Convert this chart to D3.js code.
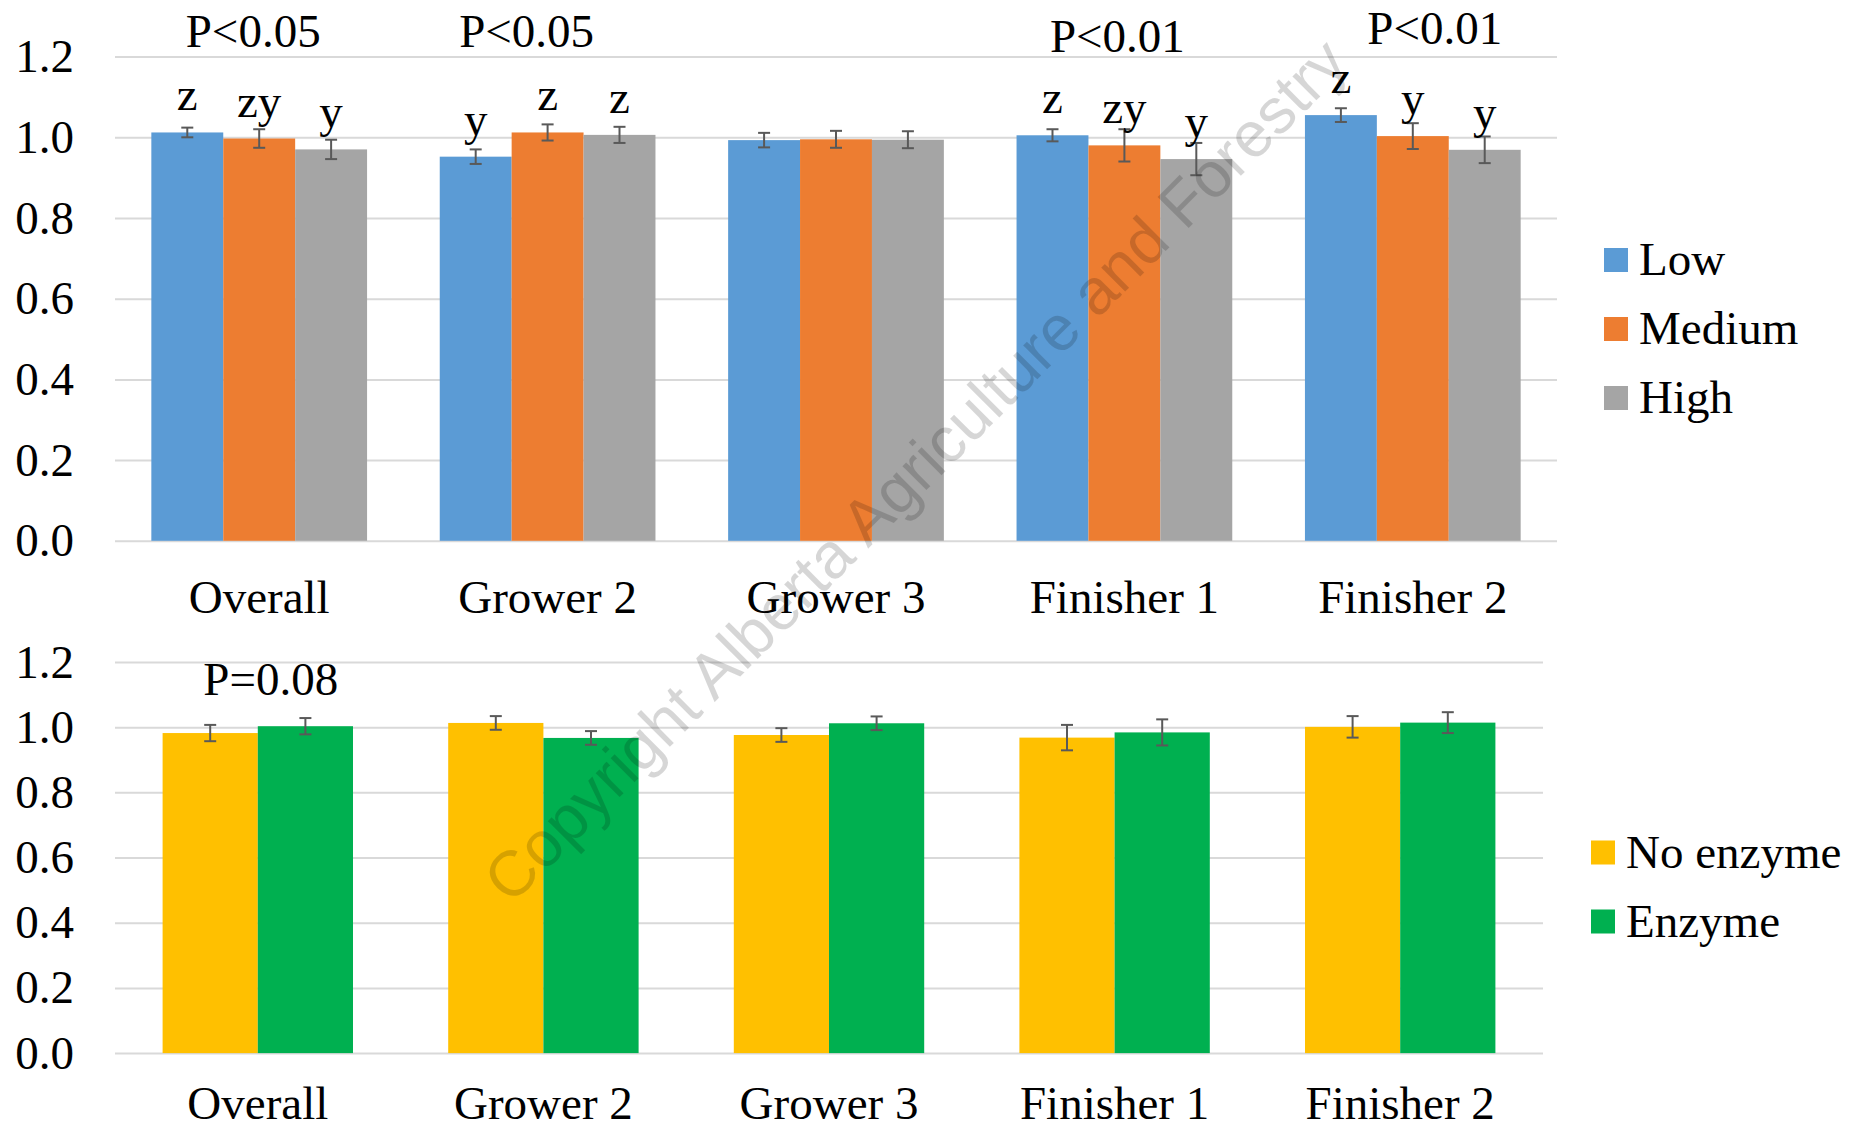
<!DOCTYPE html>
<html>
<head>
<meta charset="utf-8">
<script src="https://d3js.org/d3.v7.min.js"></script>
<style>
	body { margin: 0; background: #fff; }
	svg { display: block; }
	text { font-family: "Liberation Serif", "Times New Roman", serif; fill: #000; }
</style>
</head>
<body>
<svg id="chart" width="1850" height="1131"></svg>
<script>
const stages = ["Overall", "Grower 2", "Grower 3", "Finisher 1", "Finisher 2"]

// top panel: level
const levels = ["Low", "Medium", "High"]
const lowMean = [1.012, 0.952, 0.993, 1.005, 1.055]
const lowSE = [0.012, 0.018, 0.018, 0.015, 0.017]
const mediumMean = [0.997, 1.012, 0.995, 0.980, 1.003]
const mediumSE = [0.023, 0.020, 0.021, 0.040, 0.032]
const highMean = [0.970, 1.006, 0.994, 0.946, 0.969]
const highSE = [0.024, 0.020, 0.021, 0.040, 0.033]
const lowLetters = ["z", "y", "", "z", "z"]
const mediumLetters = ["zy", "z", "", "zy", "y"]
const highLetters = ["y", "z", "", "y", "y"]
const levelP = ["P<0.05", "P<0.05", "", "P<0.01", "P<0.01"]

// bottom panel: enzyme
const enzymes = ["No enzyme", "Enzyme"]
const noEnzymeMean = [0.982, 1.013, 0.976, 0.968, 1.001]
const noEnzymeSE = [0.025, 0.021, 0.021, 0.039, 0.033]
const enzymeMean = [1.003, 0.967, 1.012, 0.984, 1.014]
const enzymeSE = [0.025, 0.021, 0.021, 0.040, 0.032]
const enzymeP = ["P=0.08", "", "", "", ""]

const yTicks = [0, 0.2, 0.4, 0.6, 0.8, 1.0, 1.2]

const svg = d3.select("#chart")
const FONT = 47

const drawPanel = function(opt) {
	const g = svg.append("g")

	const x0 = d3.scaleBand()
		.domain(stages)
		.range([opt.left, opt.right])

	const bw = x0.bandwidth()
	const x1 = d3.scaleBand()
		.domain(opt.names)
		.range([bw * opt.inset, bw * (1 - opt.inset)])

	const y = d3.scaleLinear()
		.domain([0, 1.2])
		.range([opt.bottom, opt.top])

	// gridlines + tick labels
	const axis = g.append("g")
		.attr("transform", `translate(${opt.left},0)`)
		.call(d3.axisLeft(y)
			.tickValues(yTicks)
			.tickFormat(d3.format(".1f"))
			.tickSize(-(opt.right - opt.left))
			.tickPadding(41))

	axis.select(".domain").remove()
	axis.selectAll(".tick line")
		.attr("stroke", "#d9d9d9")
		.attr("stroke-width", 2)
	axis.selectAll(".tick text")
		.style("font-family", '"Liberation Serif", "Times New Roman", serif')
		.style("font-size", FONT + "px")
		.attr("fill", "#000")

	const rows = []
	opt.names.forEach((name, si) => {
		stages.forEach((stage, i) => {
			rows.push({
				stage, name,
				value: opt.means[si][i],
				se: opt.ses[si][i],
				letter: opt.letters ? opt.letters[si][i] : "",
				color: opt.colors[si]
			})
		})
	})

	const groups = g.selectAll(".grp")
		.data(rows)
		.enter()
		.append("g")
		.attr("transform", d => `translate(${x0(d.stage) + x1(d.name)},0)`)

	groups.append("rect")
		.attr("x", 0)
		.attr("y", d => y(d.value))
		.attr("width", x1.bandwidth())
		.attr("height", d => y(0) - y(d.value))
		.attr("fill", d => d.color)

	// error bars
	const cx = x1.bandwidth() / 2
	groups.append("line")
		.attr("x1", cx).attr("x2", cx)
		.attr("y1", d => y(d.value + d.se))
		.attr("y2", d => y(d.value - d.se))
		.attr("stroke", "#595959")
		.attr("stroke-width", 2)

	groups.selectAll(".cap")
		.data(d => [d.value + d.se, d.value - d.se])
		.enter()
		.append("line")
		.attr("x1", cx - 6).attr("x2", cx + 6)
		.attr("y1", v => y(v)).attr("y2", v => y(v))
		.attr("stroke", "#595959")
		.attr("stroke-width", 2)

	groups.append("text")
		.attr("x", cx)
		.attr("y", d => y(d.value) - 22)
		.attr("text-anchor", "middle")
		.style("font-size", FONT + "px")
		.text(d => d.letter)

	// category labels
	g.selectAll(".cat")
		.data(stages)
		.enter()
		.append("text")
		.attr("x", d => x0(d) + bw / 2)
		.attr("y", opt.labelY)
		.attr("text-anchor", "middle")
		.style("font-size", FONT + "px")
		.text(d => d)

	// P values
	g.selectAll(".pval")
		.data(opt.pLabels)
		.enter()
		.append("text")
		.attr("x", (d, i) => x0(stages[i]) + bw / 2 + opt.pNudge[i][0])
		.attr("y", (d, i) => opt.pNudge[i][1])
		.attr("text-anchor", "middle")
		.style("font-size", FONT + "px")
		.text(d => d)

	// legend
	const leg = g.selectAll(".leg")
		.data(opt.names)
		.enter()
		.append("g")
		.attr("transform", (d, i) => `translate(${opt.legendX},${opt.legendY + i * 69})`)

	leg.append("rect")
		.attr("x", 0).attr("y", -12)
		.attr("width", 24).attr("height", 24)
		.attr("fill", (d, i) => opt.colors[i])

	leg.append("text")
		.attr("x", 35)
		.attr("y", 15)
		.style("font-size", FONT + "px")
		.text(d => d)
}

drawPanel({
	names: levels,
	colors: ["#5B9BD5", "#ED7D31", "#A5A5A5"],
	means: [lowMean, mediumMean, highMean],
	ses: [lowSE, mediumSE, highSE],
	letters: [lowLetters, mediumLetters, highLetters],
	pLabels: levelP,
	pNudge: [[-6, 47], [-21, 47], [0, 0], [-7, 52], [22, 44]],
	left: 115, right: 1557, top: 56.6, bottom: 540.8,
	inset: 0.126,
	labelY: 613,
	legendX: 1604, legendY: 260
})

drawPanel({
	names: enzymes,
	colors: ["#FFC000", "#00B050"],
	means: [noEnzymeMean, enzymeMean],
	ses: [noEnzymeSE, enzymeSE],
	letters: null,
	pLabels: enzymeP,
	pNudge: [[13, 695], [0, 0], [0, 0], [0, 0], [0, 0]],
	left: 115, right: 1543, top: 662, bottom: 1053.1,
	inset: 1 / 6,
	labelY: 1119,
	legendX: 1591, legendY: 852.5
})

// watermark
svg.append("text")
	.attr("transform", "translate(915,470) rotate(-45)")
	.attr("text-anchor", "middle")
	.attr("dy", "0.35em")
	.style("font-family", '"Liberation Sans", Arial, sans-serif')
	.style("font-size", "64px")
	.style("fill", "#000")
	.style("fill-opacity", 0.16)
	.text("Copyright Alberta Agriculture and Forestry")
</script>
</body>
</html>
